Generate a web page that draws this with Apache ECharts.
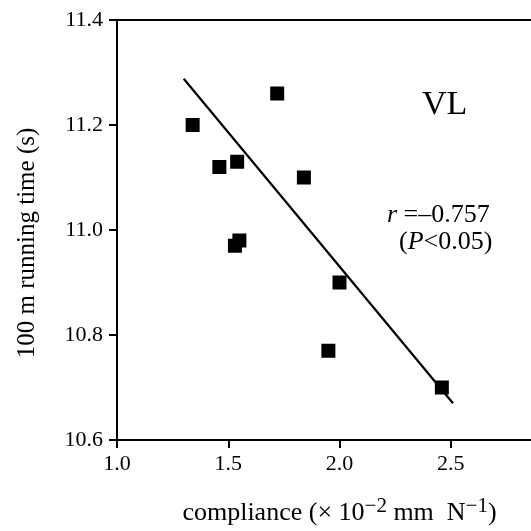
<!DOCTYPE html>
<html>
<head>
<meta charset="utf-8">
<script src="https://cdn.jsdelivr.net/npm/echarts@6/dist/echarts.min.js"></script>
<style>
html,body{margin:0;padding:0;background:#fff;}
#c{width:531px;height:531px;}
</style>
</head>
<body>
<div id="c"></div>
<script>
// Data
var compliance = [1.34, 1.72, 1.46, 1.54, 1.84, 1.55, 1.53, 2.00, 1.95, 2.46];
var runningTime = [11.20, 11.26, 11.12, 11.13, 11.10, 10.98, 10.97, 10.90, 10.77, 10.70];
var fitX = [1.30, 2.51];
var fitY = [11.288, 10.67];
var xTicks = [1.0, 1.5, 2.0, 2.5, 3.0];
var yTicks = [10.6, 10.8, 11.0, 11.2, 11.4];
var panelLabel = 'VL';
var statR = ' =–0.757';
var statP = '<0.05';

var FONT = '"Liberation Serif", "DejaVu Serif", serif';
var chart = echarts.init(document.getElementById('c'), null, {renderer: 'canvas'});

var points = compliance.map(function (x, i) { return [x, runningTime[i]]; });
var fit = fitX.map(function (x, i) { return [x, fitY[i]]; });

chart.setOption({
  animation: false,
  backgroundColor: '#fff',
  grid: {
    left: 117, top: 20, width: 445, height: 420,
    outerBoundsMode: 'none', containLabel: false,
    show: true, borderColor: '#000', borderWidth: 2, backgroundColor: 'transparent'
  },
  xAxis: {
    type: 'value', min: xTicks[0], max: xTicks[xTicks.length - 1], interval: 0.5,
    axisLine: {show: true, onZero: false, lineStyle: {color: '#000', width: 2}},
    axisTick: {show: true, inside: false, length: 8, lineStyle: {color: '#000', width: 2}},
    splitLine: {show: false},
    axisLabel: {color: '#000', fontFamily: FONT, fontSize: 22, margin: 13,
      formatter: function (v) { return v.toFixed(1); }},
    name: '{t|compliance (× 10}{s|−2}{t| mm  N}{s|−1}{t|)}',
    nameLocation: 'middle', nameGap: 56,
    nameTextStyle: {
      rich: {
        t: {fontFamily: FONT, fontSize: 26, color: '#000'},
        s: {fontFamily: FONT, fontSize: 21, color: '#000', padding: [0, 0, 14, 0]}
      }
    }
  },
  yAxis: {
    type: 'value', min: yTicks[0], max: yTicks[yTicks.length - 1], interval: 0.2,
    axisLine: {show: true, onZero: false, lineStyle: {color: '#000', width: 2}},
    axisTick: {show: true, inside: false, length: 8, lineStyle: {color: '#000', width: 2}},
    splitLine: {show: false},
    axisLabel: {color: '#000', fontFamily: FONT, fontSize: 22, margin: 14,
      formatter: function (v) { return v.toFixed(1); }},
    name: '100 m running time (s)',
    nameLocation: 'middle', nameGap: 77, nameRotate: 90,
    nameTextStyle: {fontFamily: FONT, fontSize: 25, color: '#000', padding: [0, 26, 0, 0]}
  },
  series: [
    {
      type: 'line', data: fit, symbol: 'none', silent: true,
      lineStyle: {color: '#000', width: 2.2, opacity: 1}, z: 2
    },
    {
      type: 'scatter', data: points, symbol: 'rect', symbolSize: 14,
      itemStyle: {color: '#000', opacity: 1}, z: 3
    }
  ],
  graphic: [
    {type: 'text', left: 422, top: 88,
      style: {text: panelLabel, fontFamily: FONT, fontSize: 34, fill: '#000'}},
    {type: 'text', left: 387, top: 202,
      style: {text: '{i|r}{n|' + statR + '}', rich: {
        i: {fontFamily: FONT, fontStyle: 'italic', fontSize: 26, fill: '#000'},
        n: {fontFamily: FONT, fontSize: 26, fill: '#000'}}}},
    {type: 'text', left: 399, top: 229,
      style: {text: '{n|(}{i|P}{n|' + statP + ')}', rich: {
        i: {fontFamily: FONT, fontStyle: 'italic', fontSize: 26, fill: '#000'},
        n: {fontFamily: FONT, fontSize: 26, fill: '#000'}}}}
  ]
});
</script>
</body>
</html>
